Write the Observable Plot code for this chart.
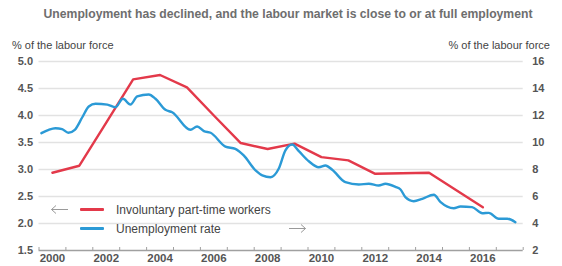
<!DOCTYPE html>
<html>
<head>
<meta charset="utf-8">
<script src="https://cdn.jsdelivr.net/npm/d3@7"></script>
<script src="https://cdn.jsdelivr.net/npm/@observablehq/plot@0.6"></script>
<style>
  html, body { margin: 0; padding: 0; background: #fff; }
  #wrap { position: relative; width: 562px; height: 266px; overflow: hidden; font-family: "Liberation Sans", Arial, sans-serif; }
  #title { position: absolute; left: 0; width: 562px; top: 7px; padding-left: 14px; box-sizing: border-box; text-align: center; font-size: 12.2px; font-weight: bold; color: #6e6e6e; line-height: 14px; white-space: nowrap; }
  .axtitle { position: absolute; top: 39px; font-size: 11px; color: #444; line-height: 12px; white-space: nowrap; }
  #chart { position: absolute; left: 0; top: 22px; }
  .leg { position: absolute; font-size: 12px; color: #444; line-height: 16px; white-space: nowrap; }
  .sw { position: absolute; width: 24px; height: 3px; border-radius: 1px; }
</style>
</head>
<body>
<div id="wrap">
  <div id="title">Unemployment has declined, and the labour market is close to or at full employment</div>
  <div class="axtitle" style="left:12px">% of the labour force</div>
  <div class="axtitle" style="right:12px">% of the labour force</div>
  <div id="chart"></div>
  <svg style="position:absolute;left:50px;top:204px" width="19" height="11"><g stroke="#9a9a9a" stroke-width="1" fill="none"><line x1="1.5" y1="5.5" x2="18" y2="5.5"/><polyline points="6,1.5 1.5,5.5 6,9.5"/></g></svg>
  <div class="sw" id="swRed" style="left:80px;top:208px"></div>
  <div class="leg" style="left:116px;top:202px">Involuntary part-time workers</div>
  <div class="sw" id="swBlue" style="left:80px;top:227px"></div>
  <div class="leg" style="left:116px;top:221px">Unemployment rate</div>
  <svg style="position:absolute;left:288px;top:223px" width="19" height="11"><g stroke="#9a9a9a" stroke-width="1" fill="none"><line x1="1" y1="5.5" x2="17.5" y2="5.5"/><polyline points="13,1.5 17.5,5.5 13,9.5"/></g></svg>
</div>
<script>
// Involuntary part-time workers (left axis, % of labour force), annual
const ptYears  = [2000, 2001, 2002, 2003, 2004, 2005, 2006, 2007, 2008, 2009, 2010, 2011, 2012, 2013, 2014, 2015, 2016];
const ptValues = [2.94, 3.07, 3.87, 4.67, 4.75, 4.52, 4.00, 3.49, 3.38, 3.48, 3.23, 3.17, 2.92, 2.93, 2.94, 2.62, 2.30];

// Unemployment rate (right axis, % of labour force), sub-annual
const urDates  = [2000.09, 2000.36, 2000.61, 2000.86, 2001.09, 2001.33, 2001.61, 2001.85, 2002.10, 2002.54,
                  2002.84, 2003.12, 2003.40, 2003.65, 2004.08, 2004.33, 2004.70, 2004.95, 2005.63, 2005.88,
                  2006.13, 2006.38, 2006.93, 2007.30, 2007.61, 2008.05, 2008.30, 2008.61, 2008.91, 2009.16,
                  2009.41, 2009.66, 2010.03, 2010.40, 2010.65, 2010.90, 2011.39, 2011.89, 2012.26, 2012.63,
                  2012.88, 2013.25, 2013.44, 2013.62, 2013.93, 2014.25, 2014.68, 2014.93, 2015.42, 2015.67,
                  2016.10, 2016.48, 2016.72, 2017.09, 2017.41, 2017.71];
const urValues = [10.69, 10.94, 11.06, 10.99, 10.72, 10.94, 11.87, 12.67, 12.87, 12.81,
                  12.61, 13.24, 12.81, 13.41, 13.56, 13.24, 12.42, 12.24, 10.94, 11.19,
                  10.84, 10.72, 9.70, 9.53, 9.04, 7.93, 7.56, 7.43, 8.05, 9.41,
                  9.85, 9.36, 8.61, 8.17, 8.30, 7.98, 7.06, 6.89, 6.94, 6.81,
                  6.94, 6.71, 6.52, 5.95, 5.65, 5.83, 6.13, 5.58, 5.13, 5.26,
                  5.21, 4.76, 4.79, 4.35, 4.35, 4.10];

// Axis ticks
const leftTicks   = [1.5, 2.0, 2.5, 3.0, 3.5, 4.0, 4.5, 5.0];
const rightTicks  = [2, 4, 6, 8, 10, 12, 14, 16];
const yearTicks   = d3.range(2000, 2019);
const yearLabels  = [2000, 2002, 2004, 2006, 2008, 2010, 2012, 2014, 2016];

const RED = "#e3394a", BLUE = "#2b9ad6";
document.getElementById("swRed").style.background = RED;
document.getElementById("swBlue").style.background = BLUE;

// right axis maps linearly onto the left: 2 -> 1.5, 16 -> 5.0
const toLeft = v => (v + 4) / 4;

const ptData = ptYears.map((y, i) => ({x: y + 0.5, y: ptValues[i]}));
const urData = urDates.map((d, i) => ({x: d, y: toLeft(urValues[i])}));

const chart = Plot.plot({
  width: 562,
  height: 244,
  marginTop: 39,
  marginBottom: 16,
  marginLeft: 38.5,
  marginRight: 39.3,
  x: {domain: [2000, 2018]},
  y: {domain: [1.5, 5.0]},
  style: {fontFamily: "'Liberation Sans', Arial, sans-serif", fontSize: "11px", color: "#444", background: "transparent", overflow: "visible"},
  marks: [
    Plot.gridY(leftTicks.filter(t => t > 1.5), {stroke: "#e2e2e2", strokeOpacity: 1, strokeWidth: 1.3}),
    Plot.axisX({ticks: yearTicks, tickSize: -3, tickFormat: () => "", stroke: "#a0a0a0", label: null}),
    Plot.ruleY([1.5], {stroke: "#a0a0a0", strokeWidth: 1.5}),
    Plot.axisX({ticks: yearLabels.map(y => y + 0.5), tickSize: 0, tickPadding: 3.5, tickFormat: d => String(Math.floor(d)), fontSize: 11.5, fontWeight: "bold", fill: "#555", label: null}),
    Plot.axisY({ticks: leftTicks, anchor: "left", tickSize: 0, tickPadding: 6, tickFormat: d3.format(".1f"), fontWeight: "bold", fill: "#555", label: null}),
    Plot.axisY({ticks: rightTicks.map(toLeft), anchor: "right", tickSize: 0, tickPadding: 9, tickFormat: d => String(Math.round(4 * d - 4)), fontWeight: "bold", fill: "#555", label: null}),
    Plot.line(ptData, {x: "x", y: "y", stroke: RED, strokeWidth: 2.4, curve: "linear"}),
    Plot.line(urData, {x: "x", y: "y", stroke: BLUE, strokeWidth: 2.4, curve: "monotone-x"})
  ]
});
document.getElementById("chart").appendChild(chart);
</script>
</body>
</html>
